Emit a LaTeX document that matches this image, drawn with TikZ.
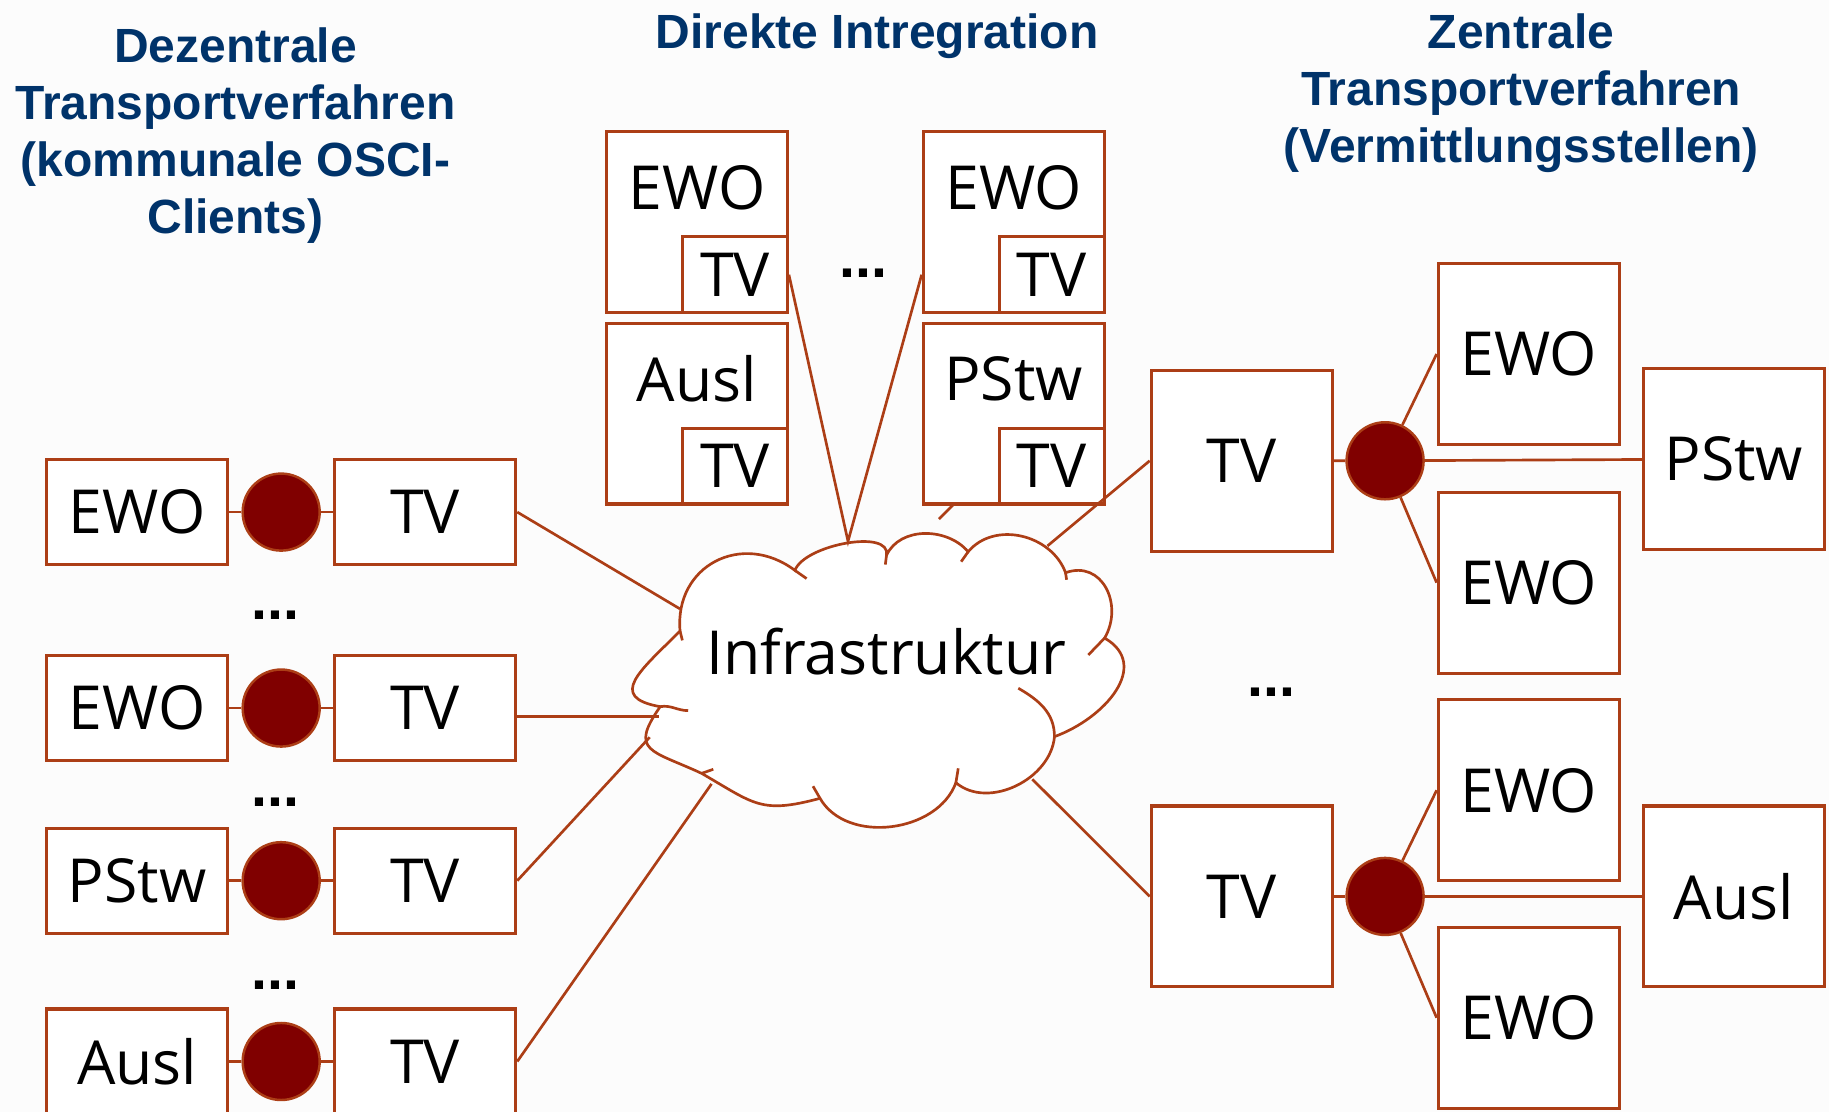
\documentclass[tikz,border=0pt]{standalone}
\usepackage{fontspec}
\setmainfont{Open Sans}
\newfontfamily\titlefont{Liberation Sans}
\usetikzlibrary{positioning}
\definecolor{rust}{RGB}{172,62,22}
\definecolor{darkred}{RGB}{128,0,0}
\definecolor{titleblue}{RGB}{0,51,106}
\definecolor{paper}{RGB}{252,252,252}

\begin{document}
\begin{tikzpicture}[x=0.01cm, y=0.01cm, line width=0.75pt,
  box/.style={draw=rust, fill=white, inner sep=0pt, font=\fontsize{14.8}{17}\selectfont},
  smallbox/.style={box, minimum width=1.55cm, minimum height=0.9cm},
  bigbox/.style={box, minimum width=1.55cm, minimum height=1.55cm},
  topbox/.style={bigbox, text depth=0.6cm},
  tvbox/.style={box, minimum width=0.9cm, minimum height=0.65cm},
  knot/.style={circle, draw=rust, line width=0.6pt, fill=darkred, minimum size=0.66cm, inner sep=0pt},
  link/.style={draw=rust, line width=0.65pt},
  more/.style={font=\titlefont\bfseries\fontsize{14}{16}\selectfont},
  heading/.style={font=\titlefont\bfseries\fontsize{11.7}{13.9}\selectfont, text=titleblue, align=center}]
\useasboundingbox (0,0) rectangle (1568,-953);
\fill[paper] (0,0) rectangle (1568,-953);

\node (titleL) [heading] at (202,-116) {Dezentrale\\Transportverfahren\\(kommunale OSCI-\\Clients)};
\node (titleM) [heading] at (752,-31) {Direkte Intregration};
\node (titleR) [heading] at (1304,-80) {Zentrale\\Transportverfahren\\(Vermittlungsstellen)};

\draw[link, fill=white] (583,-541) to[out=95,in=143,looseness=1.3] (681.5,-489)
  to[out=70,in=80,looseness=0.75] (760,-476)
  to[out=65,in=130] (830,-473)
  to[out=50,in=110,looseness=1.05] (913.5,-491)
  to[out=20,in=60,looseness=1.3] (947,-547)
  to[out=-30,in=20,looseness=1.25] (904,-631.5)
  to[out=-95,in=-40] (819.5,-671)
  to[out=-110,in=-60] (703,-684.4)
  to[out=195,in=-30,looseness=1.3] (601.5,-663)
  to[out=155,in=235,looseness=1.8] (566,-605.8)
  to[out=170,in=225,looseness=1.8] (583,-541) -- cycle;
\draw[link] (583,-541) -- (585,-549);
\draw[link] (681.5,-489) -- (691.5,-496);
\draw[link] (760,-476) -- (759,-484);
\draw[link] (830,-473) -- (824,-481.5);
\draw[link] (913.5,-491) -- (914.4,-497);
\draw[link] (947,-547) -- (933,-561.5);
\draw[link] (873,-590) to[out=-30,in=90] (904,-631.5);
\draw[link] (819.5,-671) -- (821.5,-658.7);
\draw[link] (703,-684.4) -- (697,-674);
\draw[link] (601.5,-663) -- (611.5,-659.5);
\draw[link] (566,-605.8) to[out=10,in=180] (590,-609.2);
\node (infra) [font=\fontsize{14.8}{17}\selectfont] at (760,-559) {Infrastruktur};

\coordinate (cL1) at (583,-522);
\coordinate (cL2) at (565,-614);
\coordinate (cL3) at (557,-632);
\coordinate (cL4) at (610,-672);
\coordinate (cTop) at (727,-464);
\coordinate (cR1) at (898,-468);
\coordinate (cR2) at (885,-668);
\coordinate (stub) at (805,-445);

\node (ewoL1) [smallbox] at (117.5,-439) {EWO};
\node (knotL1) [knot, right=0.106cm of ewoL1] {};
\node (tvL1) [smallbox, right=0.106cm of knotL1] {TV};
\node (moreL1) [more] at (236,-527) {...};
\node (ewoL2) [smallbox] at (117.5,-607) {EWO};
\node (knotL2) [knot, right=0.106cm of ewoL2] {};
\node (tvL2) [smallbox, right=0.106cm of knotL2] {TV};
\node (moreL2) [more] at (236,-688) {...};
\node (pstwL) [smallbox] at (117.5,-755) {PStw};
\node (knotL3) [knot, right=0.106cm of pstwL] {};
\node (tvL3) [smallbox, right=0.106cm of knotL3] {TV};
\node (moreL3) [more] at (236,-845) {...};
\node (auslL) [smallbox] at (117.5,-910) {Ausl};
\node (knotL4) [knot, right=0.106cm of auslL] {};
\node (tvL4) [smallbox, right=0.106cm of knotL4] {TV};

\node (ewoM1) [topbox] at (597.5,-190.5) {EWO};
\node (tvM1) [tvbox] at (630,-235.5) {TV};
\node (auslM) [topbox] at (597.5,-354.5) {Ausl};
\node (tvM2) [tvbox] at (630,-399.5) {TV};
\node (ewoM2) [topbox] at (869,-190.5) {EWO};
\node (tvM3) [tvbox] at (901.5,-235.5) {TV};
\node (pstwM) [topbox] at (869,-354.5) {PStw};
\node (tvM4) [tvbox] at (901.5,-399.5) {TV};
\node (moreM) [more] at (740,-234) {...};

\node (tvR1) [bigbox] at (1064.5,-395) {TV};
\node (knotR1) [knot, right=0.1cm of tvR1] {};
\node (ewoR1) [bigbox] at (1310.5,-303.5) {EWO};
\node (ewoR2) [bigbox] at (1310.5,-499.5) {EWO};
\node (pstwR) [bigbox] at (1486.5,-393.5) {PStw};
\node (moreR) [more] at (1090,-593) {...};
\node (tvR2) [bigbox] at (1064.5,-768.5) {TV};
\node (knotR2) [knot, right=0.1cm of tvR2] {};
\node (ewoR3) [bigbox] at (1310.5,-677.5) {EWO};
\node (ewoR4) [bigbox] at (1310.5,-872.5) {EWO};
\node (auslR) [bigbox] at (1486.5,-768.5) {Ausl};

\draw[link] (ewoL1) -- (knotL1) -- (tvL1);
\draw[link] (ewoL2) -- (knotL2) -- (tvL2);
\draw[link] (pstwL) -- (knotL3) -- (tvL3);
\draw[link] (auslL) -- (knotL4) -- (tvL4);
\draw[link] (tvL1.east) -- (cL1);
\draw[link] (tvL2.east |- cL2) -- (cL2);
\draw[link] (tvL3.east) -- (cL3);
\draw[link] (tvL4.east) -- (cL4);
\draw[link] (tvM1.east) -- (cTop) -- (ewoM2.west |- tvM3);
\draw[link] (stub) -- ++(13,13);
\draw[link] (tvR1.west) -- (cR1);
\draw[link] (tvR2.west) -- (cR2);
\draw[link] (tvR1) -- (knotR1) -- (pstwR);
\draw[link] (knotR1) -- (ewoR1.west);
\draw[link] (knotR1) -- (ewoR2.west);
\draw[link] (tvR2) -- (knotR2) -- (auslR);
\draw[link] (knotR2) -- (ewoR3.west);
\draw[link] (knotR2) -- (ewoR4.west);
\end{tikzpicture}
\end{document}
